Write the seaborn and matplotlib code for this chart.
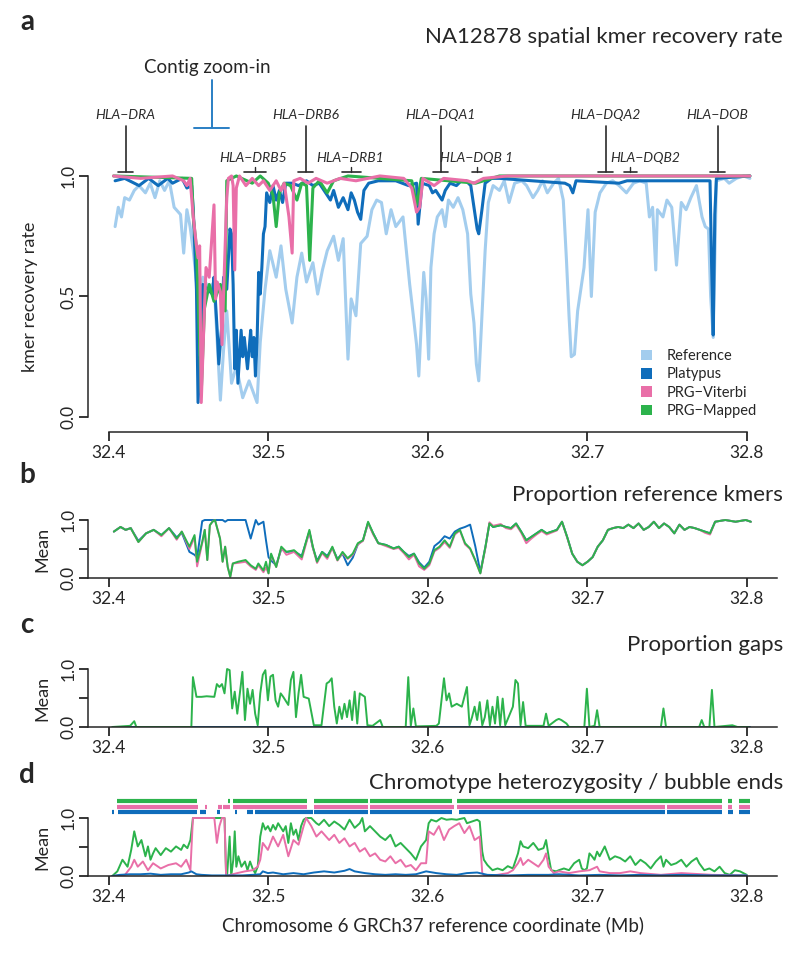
import matplotlib
matplotlib.use("Agg")
import matplotlib.pyplot as plt
from matplotlib.patches import Patch
import seaborn as sns

# ---- panel a: spatial kmer recovery rate ----
ref_x = [32.404, 32.406, 32.408, 32.410, 32.413, 32.416, 32.419, 32.423, 32.426, 32.429,
         32.432, 32.435, 32.438, 32.441, 32.445, 32.447, 32.449, 32.451, 32.453, 32.455,
         32.457, 32.459, 32.463, 32.466, 32.470, 32.472, 32.474, 32.477, 32.480, 32.484,
         32.488, 32.493, 32.495, 32.498, 32.501, 32.505, 32.508, 32.511, 32.515, 32.518,
         32.521, 32.524, 32.528, 32.531, 32.534, 32.537, 32.541, 32.544, 32.547, 32.550,
         32.552, 32.555, 32.558, 32.562, 32.565, 32.568, 32.571, 32.574, 32.577, 32.580,
         32.5845, 32.5866, 32.5887, 32.5908, 32.593, 32.5944, 32.596, 32.5975, 32.599, 32.6006,
         32.602, 32.604, 32.606, 32.609, 32.611, 32.613, 32.616, 32.619, 32.622, 32.625,
         32.627, 32.629, 32.6305, 32.632, 32.634, 32.636, 32.638, 32.641, 32.645, 32.648,
         32.651, 32.6545, 32.659, 32.662, 32.666, 32.669, 32.672, 32.675, 32.679, 32.682,
         32.685, 32.687, 32.6886, 32.690, 32.692, 32.694, 32.696, 32.698, 32.7005, 32.7026,
         32.705, 32.708, 32.712, 32.716, 32.720, 32.7246, 32.729, 32.733, 32.737, 32.739,
         32.741, 32.743, 32.744, 32.7475, 32.750, 32.753, 32.756, 32.759, 32.762, 32.765,
         32.7685, 32.772, 32.774, 32.776, 32.7774, 32.779, 32.781, 32.786, 32.789, 32.7935,
         32.798, 32.802]
ref_y = [0.79, 0.87, 0.83, 0.91, 0.90, 0.94, 0.96, 0.93, 0.97, 0.91,
         0.98, 0.94, 0.98, 0.87, 0.84, 0.68, 0.86, 0.79, 0.69, 0.56,
         0.49, 0.58, 0.53, 0.56, 0.07, 0.28, 0.44, 0.14, 0.21, 0.08,
         0.15, 0.06, 0.31, 0.53, 0.69, 0.58, 0.71, 0.53, 0.39, 0.58,
         0.68, 0.56, 0.64, 0.51, 0.61, 0.69, 0.75, 0.65, 0.74, 0.24,
         0.49, 0.42, 0.72, 0.75, 0.86, 0.90, 0.89, 0.76, 0.86, 0.79,
         0.83, 0.69, 0.55, 0.43, 0.30, 0.17, 0.39, 0.60, 0.49, 0.24,
         0.62, 0.76, 0.83, 0.86, 0.79, 0.90, 0.87, 0.91, 0.86, 0.76,
         0.51, 0.39, 0.22, 0.15, 0.42, 0.69, 0.89, 0.96, 0.94, 0.98,
         0.89, 0.97, 0.98, 0.96, 0.91, 0.94, 0.98, 0.93, 0.97, 0.99,
         0.90, 0.65, 0.42, 0.25, 0.26, 0.44, 0.53, 0.62, 0.86, 0.50,
         0.85, 0.93, 0.97, 0.98, 0.96, 0.93, 0.97, 0.98, 0.97, 0.83,
         0.87, 0.61, 0.86, 0.83, 0.90, 0.87, 0.63, 0.89, 0.86, 0.91,
         0.96, 0.83, 0.79, 0.78, 0.50, 0.33, 0.98, 0.99, 0.97, 0.99,
         1.0, 0.99]

plat_x = [32.404, 32.410, 32.419, 32.425, 32.431, 32.437, 32.440, 32.446, 32.449, 32.452,
          32.453, 32.455, 32.456, 32.458, 32.459, 32.462, 32.465, 32.466, 32.468, 32.469,
          32.471, 32.472, 32.474, 32.476, 32.477, 32.478, 32.479, 32.480, 32.481, 32.483,
          32.484, 32.485, 32.487, 32.488, 32.489, 32.490, 32.491, 32.492, 32.493, 32.494,
          32.495, 32.496, 32.497, 32.498, 32.499, 32.501, 32.503, 32.505, 32.507, 32.509,
          32.511, 32.515, 32.519, 32.524, 32.528, 32.532, 32.536, 32.539, 32.541, 32.544,
          32.547, 32.550, 32.552, 32.554, 32.556, 32.558, 32.560, 32.563, 32.569, 32.580,
          32.588, 32.593, 32.594, 32.5965, 32.601, 32.603, 32.605, 32.609, 32.611, 32.614,
          32.618, 32.621, 32.624, 32.627, 32.629, 32.631, 32.632, 32.634, 32.636, 32.640,
          32.645, 32.686, 32.689, 32.691, 32.693, 32.720, 32.725, 32.741, 32.750, 32.777,
          32.778, 32.779, 32.780, 32.781, 32.802]
plat_y = [0.98, 0.99, 0.96, 0.99, 0.96, 0.99, 0.97, 0.99, 0.95, 0.96,
          0.86, 0.53, 0.06, 0.31, 0.55, 0.53, 0.51, 0.58, 0.36, 0.22,
          0.39, 0.58, 0.53, 0.78, 0.76, 0.55, 0.20, 0.36, 0.14, 0.36,
          0.25, 0.33, 0.20, 0.28, 0.36, 0.25, 0.33, 0.17, 0.31, 0.60,
          0.51, 0.62, 0.76, 0.79, 0.93, 0.89, 0.96, 0.90, 0.94, 0.89,
          0.97, 0.97, 0.96, 0.98, 0.96, 0.97, 0.93, 0.90, 0.94, 0.87,
          0.91, 0.86, 0.93, 0.90, 0.85, 0.82, 0.94, 0.97, 0.98, 0.98,
          0.96, 0.97, 0.80, 0.97, 0.96, 0.93, 0.94, 0.90, 0.94, 0.97,
          0.96, 0.98, 0.98, 0.96, 0.87, 0.78, 0.76, 0.86, 0.97, 0.99,
          0.99, 0.97, 0.96, 0.93, 0.98, 0.97, 0.98, 0.98, 0.98, 0.98,
          0.63, 0.34, 0.84, 0.99, 1.0]

viterbi_x = [32.403, 32.420, 32.440, 32.447, 32.449, 32.451, 32.453, 32.455, 32.456, 32.457,
             32.458, 32.460, 32.461, 32.463, 32.466, 32.467, 32.468, 32.470, 32.471, 32.472,
             32.474, 32.475, 32.477, 32.478, 32.479, 32.480, 32.482, 32.486, 32.490, 32.494,
             32.497, 32.501, 32.505, 32.508, 32.510, 32.513, 32.515, 32.516, 32.520, 32.525,
             32.530, 32.537, 32.545, 32.555, 32.570, 32.585, 32.590, 32.593, 32.595, 32.597,
             32.604, 32.610, 32.625, 32.629, 32.635, 32.650, 32.802]
viterbi_y = [1.0, 0.99, 1.0, 0.98, 0.96, 0.99, 0.83, 0.71, 0.66, 0.71,
             0.06, 0.45, 0.62, 0.58, 0.88, 0.49, 0.56, 0.52, 0.30, 0.51,
             0.91, 0.99, 1.0, 0.96, 0.61, 0.95, 1.0, 0.96, 0.99, 0.96,
             0.98, 0.94, 0.98, 0.94, 0.97, 0.83, 0.68, 0.98, 0.99, 0.97,
             0.99, 0.97, 0.99, 0.98, 1.0, 0.99, 0.95, 0.85, 0.87, 0.99,
             0.96, 0.99, 0.98, 0.97, 0.99, 1.0, 1.0]

mapped_x = [32.403, 32.452, 32.453, 32.455, 32.458, 32.460, 32.463, 32.466, 32.470, 32.473,
            32.474, 32.480, 32.490, 32.495, 32.500, 32.503, 32.505, 32.507, 32.510, 32.514,
            32.518, 32.521, 32.524, 32.526, 32.528, 32.532, 32.537, 32.541, 32.550, 32.590,
            32.593, 32.596, 32.630, 32.645, 32.802]
mapped_y = [1.0, 0.99, 0.83, 0.70, 0.10, 0.45, 0.55, 0.48, 0.55, 0.44,
            0.98, 1.0, 0.97, 1.0, 0.97, 0.92, 0.79, 0.93, 0.97, 0.96,
            0.90, 0.97, 0.96, 0.65, 0.95, 0.98, 0.93, 0.98, 1.0, 0.98,
            0.88, 0.99, 0.97, 1.0, 1.0]

# ---- panel b: proportion reference kmers ----
b_x = [32.4032, 32.4074, 32.4106, 32.4138, 32.4186, 32.4234, 32.4282, 32.4330, 32.4378, 32.4426,
       32.4458, 32.4506, 32.4538, 32.4554, 32.4586, 32.4602, 32.4618, 32.4634, 32.4650, 32.4666,
       32.4698, 32.4714, 32.4730, 32.4746, 32.4762, 32.4778, 32.4810, 32.4858, 32.4890, 32.4922,
       32.4938, 32.4970, 32.4986, 32.5002, 32.5018, 32.5050, 32.5082, 32.5114, 32.5162, 32.5210,
       32.5258, 32.5280, 32.5306, 32.5338, 32.5370, 32.5402, 32.5434, 32.5466, 32.5498, 32.5530,
       32.5562, 32.5594, 32.5626, 32.5658, 32.5690, 32.5738, 32.5786, 32.5818, 32.5850, 32.5882,
       32.5914, 32.5946, 32.5978, 32.6010, 32.6042, 32.6074, 32.6106, 32.6138, 32.6170, 32.6202,
       32.6234, 32.6266, 32.6298, 32.6330, 32.6362, 32.6387, 32.6410, 32.6458, 32.6490, 32.6522,
       32.6554, 32.6586, 32.6618, 32.6650, 32.6682, 32.6714, 32.6746, 32.6810, 32.6842, 32.6874,
       32.6906, 32.6938, 32.6970, 32.7002, 32.7034, 32.7066, 32.7098, 32.7130, 32.7162, 32.7194,
       32.7226, 32.7258, 32.7290, 32.7322, 32.7354, 32.7386, 32.7418, 32.7450, 32.7482, 32.7514,
       32.7546, 32.7578, 32.7610, 32.7642, 32.7674, 32.7706, 32.7738, 32.7770, 32.7802, 32.7866,
       32.7930, 32.7994, 32.8026]
b_platypus = [0.80, 0.88, 0.83, 0.86, 0.64, 0.77, 0.83, 0.74, 0.86, 0.70,
              0.78, 0.45, 0.40, 0.35, 0.98, 1.0, 1.0, 1.0, 1.0, 1.0,
              1.0, 1.0, 0.97, 1.0, 1.0, 1.0, 1.0, 1.0, 0.68, 1.0,
              0.92, 0.97, 0.65, 0.36, 0.30, 0.22, 0.50, 0.45, 0.46, 0.38,
              0.80, 0.52, 0.30, 0.45, 0.38, 0.52, 0.33, 0.42, 0.22, 0.35,
              0.58, 0.65, 0.95, 0.77, 0.60, 0.57, 0.51, 0.54, 0.45, 0.38,
              0.42, 0.27, 0.18, 0.28, 0.55, 0.62, 0.72, 0.68, 0.80, 0.85,
              0.88, 0.92, 0.55, 0.10, 0.54, 0.94, 0.88, 0.91, 0.88, 0.86,
              0.94, 0.80, 0.65, 0.71, 0.77, 0.83, 0.77, 0.83, 0.97, 0.71,
              0.42, 0.28, 0.22, 0.28, 0.36, 0.54, 0.65, 0.83, 0.86, 0.88,
              0.86, 0.92, 0.86, 0.94, 0.83, 0.88, 0.97, 0.86, 0.94, 0.88,
              0.77, 0.92, 0.83, 0.88, 0.86, 0.83, 0.80, 0.77, 0.97, 1.0,
              0.97, 1.0, 0.97]
b_viterbi = [0.80, 0.88, 0.83, 0.86, 0.62, 0.77, 0.83, 0.72, 0.86, 0.66,
             0.80, 0.50, 0.70, 0.20, 0.60, 0.83, 0.31, 0.91, 0.97, 1.0,
             0.68, 0.28, 0.54, 0.19, 0.02, 0.25, 0.26, 0.28, 0.20, 0.14,
             0.22, 0.10, 0.18, 0.08, 0.40, 0.19, 0.52, 0.40, 0.45, 0.32,
             0.80, 0.52, 0.26, 0.43, 0.33, 0.52, 0.30, 0.43, 0.33, 0.40,
             0.58, 0.64, 0.95, 0.75, 0.60, 0.55, 0.50, 0.52, 0.43, 0.32,
             0.40, 0.20, 0.14, 0.22, 0.46, 0.52, 0.62, 0.52, 0.75, 0.82,
             0.58, 0.50, 0.30, 0.08, 0.52, 0.96, 0.90, 0.93, 0.86, 0.84,
             0.92, 0.78, 0.60, 0.68, 0.75, 0.81, 0.75, 0.82, 0.97, 0.70,
             0.42, 0.28, 0.22, 0.28, 0.36, 0.54, 0.65, 0.83, 0.86, 0.88,
             0.86, 0.92, 0.86, 0.94, 0.83, 0.88, 0.97, 0.86, 0.94, 0.88,
             0.77, 0.92, 0.83, 0.88, 0.86, 0.83, 0.78, 0.75, 0.97, 1.0,
             0.97, 1.0, 0.97]
b_mapped = [0.80, 0.88, 0.83, 0.86, 0.62, 0.77, 0.83, 0.74, 0.86, 0.68,
            0.80, 0.54, 0.74, 0.28, 0.62, 0.83, 0.31, 0.91, 0.97, 1.0,
            0.68, 0.28, 0.54, 0.19, 0.02, 0.25, 0.28, 0.31, 0.22, 0.16,
            0.25, 0.13, 0.28, 0.08, 0.42, 0.19, 0.54, 0.45, 0.48, 0.36,
            0.83, 0.54, 0.28, 0.45, 0.36, 0.54, 0.31, 0.45, 0.34, 0.42,
            0.60, 0.65, 0.97, 0.77, 0.60, 0.57, 0.51, 0.54, 0.45, 0.36,
            0.42, 0.25, 0.16, 0.25, 0.48, 0.54, 0.65, 0.54, 0.77, 0.83,
            0.60, 0.51, 0.31, 0.08, 0.54, 0.94, 0.88, 0.91, 0.88, 0.86,
            0.94, 0.80, 0.65, 0.71, 0.77, 0.83, 0.77, 0.83, 0.97, 0.71,
            0.42, 0.28, 0.22, 0.28, 0.36, 0.54, 0.65, 0.83, 0.86, 0.88,
            0.86, 0.92, 0.86, 0.94, 0.83, 0.88, 0.97, 0.86, 0.94, 0.88,
            0.77, 0.92, 0.83, 0.88, 0.86, 0.83, 0.80, 0.77, 0.97, 1.0,
            0.97, 1.0, 0.97]

# ---- panel c: proportion gaps ----
c_platypus_x = [32.403, 32.802]
c_platypus = [0.0, 0.0]
c_x = [32.4022, 32.4134, 32.4160, 32.4173, 32.4518, 32.4528, 32.4550, 32.4582, 32.4614, 32.4662,
       32.4678, 32.4694, 32.4710, 32.4726, 32.4742, 32.4758, 32.4774, 32.4790, 32.4806, 32.4822,
       32.4838, 32.4854, 32.4870, 32.4886, 32.4902, 32.4918, 32.4934, 32.4950, 32.4966, 32.4982,
       32.4998, 32.5014, 32.5030, 32.5046, 32.5062, 32.5078, 32.5094, 32.5126, 32.5142, 32.5158,
       32.5174, 32.5190, 32.5206, 32.5222, 32.5254, 32.5286, 32.5334, 32.5366, 32.5382, 32.5398,
       32.5414, 32.5430, 32.5446, 32.5462, 32.5478, 32.5494, 32.5510, 32.5526, 32.5542, 32.5558,
       32.5574, 32.5606, 32.5622, 32.5654, 32.5702, 32.5718, 32.5862, 32.5878, 32.5894, 32.5910,
       32.5926, 32.6054, 32.6070, 32.6102, 32.6118, 32.6134, 32.6150, 32.6182, 32.6214, 32.6230,
       32.6246, 32.6262, 32.6278, 32.6294, 32.6310, 32.6326, 32.6342, 32.6358, 32.6374, 32.6390,
       32.6406, 32.6422, 32.6438, 32.6454, 32.6470, 32.6486, 32.6534, 32.6550, 32.6566, 32.6582,
       32.6598, 32.6614, 32.6726, 32.6742, 32.6758, 32.6806, 32.6822, 32.6838, 32.6870, 32.6886,
       32.6982, 32.6998, 32.7014, 32.7046, 32.7062, 32.7078, 32.7462, 32.7478, 32.7494, 32.7702,
       32.7718, 32.7734, 32.7766, 32.7782, 32.7798, 32.7910, 32.7942, 32.8010]
c_mapped = [0.0, 0.02, 0.10, 0.0, 0.0, 0.86, 0.52, 0.52, 0.53, 0.52,
            0.74, 0.69, 0.74, 0.58, 1.0, 0.98, 0.32, 0.61, 0.23, 0.58,
            0.95, 0.12, 0.66, 0.40, 0.64, 0.23, 0.03, 0.58, 0.90, 0.98,
            0.46, 0.87, 0.90, 0.46, 0.35, 0.58, 0.52, 0.38, 0.81, 0.95,
            0.17, 0.58, 0.90, 0.52, 0.49, 0.03, 0.03, 0.75, 0.78, 0.84,
            0.35, 0.06, 0.35, 0.14, 0.40, 0.17, 0.46, 0.12, 0.61, 0.06,
            0.58, 0.52, 0.03, 0.02, 0.12, 0.0, 0.0, 0.86, 0.02, 0.32,
            0.01, 0.02, 0.06, 0.84, 0.46, 0.58, 0.35, 0.40, 0.35, 0.52,
            0.69, 0.03, 0.17, 0.35, 0.12, 0.43, 0.03, 0.17, 0.46, 0.03,
            0.35, 0.06, 0.52, 0.03, 0.49, 0.03, 0.35, 0.81, 0.75, 0.03,
            0.43, 0.02, 0.02, 0.23, 0.02, 0.12, 0.14, 0.12, 0.06, 0.0,
            0.0, 0.66, 0.0, 0.02, 0.29, 0.0, 0.0, 0.32, 0.0, 0.0,
            0.12, 0.0, 0.0, 0.64, 0.0, 0.03, 0.0, 0.0]

# ---- panel d: chromotype heterozygosity / bubble ends ----
d_mapped_x = [32.4022, 32.4054, 32.4086, 32.4118, 32.4141, 32.4160, 32.4182, 32.4205, 32.4230, 32.4246,
              32.4262, 32.4278, 32.4294, 32.4326, 32.4358, 32.4390, 32.4422, 32.4454, 32.4470, 32.4493,
              32.4512, 32.4528, 32.4710, 32.4726, 32.4736, 32.4742, 32.4758, 32.4768, 32.4781, 32.4790,
              32.4800, 32.4813, 32.4832, 32.4854, 32.4870, 32.4886, 32.4902, 32.4918, 32.4934, 32.4950,
              32.4966, 32.4982, 32.4998, 32.5014, 32.5030, 32.5046, 32.5062, 32.5094, 32.5110, 32.5126,
              32.5142, 32.5158, 32.5174, 32.5190, 32.5206, 32.5222, 32.5238, 32.5270, 32.5302, 32.5318,
              32.5350, 32.5382, 32.5414, 32.5446, 32.5478, 32.5510, 32.5542, 32.5574, 32.5590, 32.5606,
              32.5638, 32.5670, 32.5702, 32.5734, 32.5766, 32.5798, 32.5830, 32.5862, 32.5894, 32.5926,
              32.5958, 32.5990, 32.6006, 32.6022, 32.6054, 32.6086, 32.6118, 32.6150, 32.6182, 32.6230,
              32.6246, 32.6278, 32.6310, 32.6326, 32.6342, 32.6352, 32.6374, 32.6406, 32.6438, 32.6470,
              32.6502, 32.6534, 32.6566, 32.6582, 32.6598, 32.6630, 32.6662, 32.6694, 32.6726, 32.6742,
              32.6758, 32.6774, 32.6806, 32.6822, 32.6854, 32.6886, 32.6918, 32.6950, 32.6966, 32.6982,
              32.6998, 32.7014, 32.7030, 32.7046, 32.7062, 32.7078, 32.7110, 32.7142, 32.7174, 32.7206,
              32.7238, 32.7270, 32.7302, 32.7334, 32.7366, 32.7398, 32.7430, 32.7462, 32.7478, 32.7494,
              32.7526, 32.7558, 32.7590, 32.7622, 32.7654, 32.7686, 32.7702, 32.7734, 32.7766, 32.7798,
              32.7830, 32.7862, 32.7894, 32.7926, 32.7958, 32.8000]
d_mapped = [0.0, 0.08, 0.28, 0.16, 0.45, 0.77, 0.51, 0.62, 0.34, 0.51,
            0.28, 0.39, 0.48, 0.36, 0.48, 0.42, 0.51, 0.45, 0.54, 0.48,
            0.62, 1.0, 1.0, 1.0, 0.0, 0.0, 0.68, 0.0, 0.28, 0.77,
            0.16, 0.34, 0.16, 0.25, 0.10, 0.25, 0.13, 0.05, 0.16, 0.68,
            0.91, 0.80, 0.86, 0.77, 0.88, 0.80, 0.91, 0.77, 0.86, 0.57,
            0.91, 0.71, 0.80, 0.62, 0.86, 0.97, 1.0, 1.0, 0.91, 0.88,
            0.97, 0.86, 0.94, 0.88, 0.80, 0.97, 0.83, 0.91, 1.0, 0.77,
            0.86, 0.77, 0.68, 0.62, 0.71, 0.51, 0.57, 0.48, 0.39, 0.28,
            0.51, 0.62, 0.91, 0.97, 0.94, 1.0, 0.97, 0.98, 0.97, 1.0,
            0.91, 0.94, 0.97, 0.94, 0.42, 0.28, 0.19, 0.10, 0.13, 0.10,
            0.17, 0.13, 0.39, 0.60, 0.51, 0.48, 0.57, 0.45, 0.48, 0.62,
            0.34, 0.10, 0.08, 0.10, 0.13, 0.10, 0.22, 0.28, 0.13, 0.10,
            0.13, 0.39, 0.34, 0.28, 0.42, 0.34, 0.51, 0.28, 0.34, 0.31,
            0.25, 0.34, 0.19, 0.28, 0.22, 0.13, 0.25, 0.34, 0.16, 0.28,
            0.19, 0.22, 0.28, 0.16, 0.25, 0.31, 0.22, 0.10, 0.13, 0.08,
            0.16, 0.05, 0.02, 0.10, 0.08, 0.02]

d_viterbi_x = [32.4022, 32.4102, 32.4141, 32.4160, 32.4182, 32.4214, 32.4246, 32.4278, 32.4326, 32.4374,
               32.4422, 32.4454, 32.4486, 32.4512, 32.4528, 32.4662, 32.4678, 32.4694, 32.4710, 32.4726,
               32.4736, 32.4806, 32.4854, 32.4902, 32.4934, 32.4950, 32.4966, 32.4998, 32.5030, 32.5062,
               32.5094, 32.5126, 32.5158, 32.5190, 32.5222, 32.5238, 32.5270, 32.5302, 32.5334, 32.5382,
               32.5414, 32.5446, 32.5478, 32.5510, 32.5542, 32.5574, 32.5606, 32.5638, 32.5670, 32.5702,
               32.5734, 32.5766, 32.5798, 32.5830, 32.5862, 32.5894, 32.5926, 32.5958, 32.5990, 32.6006,
               32.6038, 32.6070, 32.6102, 32.6134, 32.6166, 32.6198, 32.6230, 32.6262, 32.6294, 32.6326,
               32.6342, 32.6358, 32.6438, 32.6502, 32.6534, 32.6566, 32.6582, 32.6598, 32.6630, 32.6662,
               32.6694, 32.6726, 32.6742, 32.6758, 32.6790, 32.6822, 32.6886, 32.6950, 32.7014, 32.7062,
               32.7078, 32.7142, 32.7206, 32.7270, 32.7334, 32.7462, 32.7590, 32.7718, 32.7782, 32.8000]
d_viterbi = [0.0, 0.02, 0.16, 0.28, 0.16, 0.25, 0.10, 0.22, 0.13, 0.19,
             0.22, 0.16, 0.28, 0.10, 1.0, 1.0, 0.57, 0.86, 1.0, 1.0,
             0.0, 0.05, 0.08, 0.10, 0.16, 0.28, 0.57, 0.45, 0.68, 0.51,
             0.71, 0.34, 0.62, 0.54, 0.86, 1.0, 0.86, 0.68, 0.77, 0.62,
             0.71, 0.57, 0.65, 0.51, 0.57, 0.42, 0.48, 0.34, 0.39, 0.28,
             0.25, 0.34, 0.22, 0.28, 0.16, 0.19, 0.10, 0.22, 0.22, 0.77,
             0.71, 0.86, 0.62, 0.80, 0.86, 0.91, 0.74, 0.86, 0.62, 0.68,
             0.05, 0.0, 0.02, 0.05, 0.10, 0.22, 0.31, 0.19, 0.28, 0.22,
             0.16, 0.28, 0.39, 0.16, 0.05, 0.08, 0.05, 0.08, 0.10, 0.16,
             0.08, 0.05, 0.05, 0.08, 0.05, 0.02, 0.05, 0.03, 0.02, 0.01]

d_platypus_x = [32.4022, 32.4070, 32.4134, 32.4198, 32.4262, 32.4326, 32.4390, 32.4454, 32.4502, 32.4518,
                32.4550, 32.4582, 32.4646, 32.4710, 32.4838, 32.4902, 32.4950, 32.4966, 32.4998, 32.5030,
                32.5094, 32.5158, 32.5222, 32.5286, 32.5350, 32.5414, 32.5478, 32.5510, 32.5542, 32.5606,
                32.5670, 32.5734, 32.5798, 32.5862, 32.5926, 32.5990, 32.6054, 32.6118, 32.6182, 32.6246,
                32.6310, 32.6374, 32.6502, 32.6630, 32.6758, 32.6822, 32.6950, 32.7078, 32.7206, 32.7334,
                32.7462, 32.7590, 32.7782, 32.8000]
d_platypus = [0.0, 0.02, 0.03, 0.03, 0.04, 0.02, 0.03, 0.03, 0.06, 0.08,
              0.03, 0.02, 0.01, 0.01, 0.01, 0.02, 0.03, 0.08, 0.05, 0.06,
              0.03, 0.05, 0.03, 0.06, 0.08, 0.06, 0.09, 0.12, 0.08, 0.05,
              0.03, 0.02, 0.03, 0.02, 0.03, 0.08, 0.05, 0.03, 0.02, 0.05,
              0.06, 0.02, 0.01, 0.02, 0.02, 0.03, 0.01, 0.02, 0.01, 0.02,
              0.01, 0.02, 0.01, 0.01]

# chromotype segments drawn above panel d
mapped_seg_start = [32.4050, 32.4745, 32.4777, 32.5290, 32.5636, 32.6182, 32.7885, 32.7949]
mapped_seg_end = [32.4552, 32.4758, 32.5241, 32.5624, 32.6150, 32.7846, 32.7910, 32.8022]
viterbi_seg_start = [32.4050, 32.4603, 32.4683, 32.4715, 32.4777, 32.5290, 32.5636, 32.6182,
                     32.7501, 32.7885, 32.7949]
viterbi_seg_end = [32.4560, 32.4615, 32.4708, 32.4759, 32.5241, 32.5624, 32.6166, 32.7485,
                   32.7846, 32.7910, 32.8022]
platypus_seg_start = [32.4018, 32.4056, 32.4570, 32.4677, 32.4790, 32.4865, 32.4915, 32.5290,
                      32.5636, 32.6198, 32.7501, 32.7885, 32.7949]
platypus_seg_end = [32.4032, 32.4552, 32.4608, 32.4696, 32.4802, 32.4903, 32.5279, 32.5624,
                    32.6150, 32.7485, 32.7846, 32.7917, 32.8022]

# gene annotations
long_genes = ["HLA−DRA", "HLA−DRB6", "HLA−DQA1", "HLA−DQA2", "HLA−DOB"]
long_pos = [32.4107, 32.5235, 32.6082, 32.7116, 32.7818]
short_genes = ["HLA−DRB5", "HLA−DRB1", "HLA−DQB 1", "HLA−DQB2"]
short_start = [32.4846, 32.5461, 32.6276, 32.7229]
short_end = [32.4984, 32.5580, 32.6339, 32.7310]
short_label_x = [32.4903, 32.5511, 32.6307, 32.7361]
contig_start, contig_end, contig_mid = 32.4533, 32.4752, 32.4646

series_names = ["Reference", "Platypus", "PRG−Viterbi", "PRG−Mapped"]
colors = {"Reference": "#a3cdee", "Platypus": "#0f6dbb",
          "PRG−Viterbi": "#e96fa8", "PRG−Mapped": "#2cb34c"}
x_ticks = [32.4, 32.5, 32.6, 32.7, 32.8]

sns.set_style("ticks")
plt.rcParams["font.family"] = ["Lato", "DejaVu Sans"]
plt.rcParams["axes.linewidth"] = 1.1

fig = plt.figure(figsize=(8, 9.56), dpi=100)
W, H = 800.0, 956.0
XLIM = (32.387, 32.819)


def add_px_axes(bottom, top):
    return fig.add_axes([88 / W, 1 - bottom / H, (777 - 88) / W, (bottom - top) / H])


def style_axes(ax, full_bottom):
    ax.set_xlim(*XLIM)
    ax.set_xticks(x_ticks)
    ax.set_xticklabels(["%.1f" % t for t in x_ticks])
    ax.set_yticks([0, 0.5, 1.0])
    ax.set_yticklabels(["0.0", "0.5", "1.0"])
    sns.despine(ax=ax)
    ax.spines["left"].set_bounds(0, 1)
    if not full_bottom:
        ax.spines["bottom"].set_bounds(32.4, 32.8)
    ax.tick_params(axis="both", direction="out", length=6.5, width=1.1,
                   labelsize=12.5, color="black")
    ax.tick_params(axis="x", pad=3)
    ax.tick_params(axis="y", pad=2, labelrotation=90)
    for lbl in ax.get_yticklabels():
        lbl.set_va("center")
    ax.set_xlabel("")
    ax.set_facecolor("none")


def line(ax, xs, ys, name, lw):
    sns.lineplot(x=xs, y=ys, ax=ax, color=colors[name], linewidth=lw,
                 estimator=None, sort=False, legend=False)


# ---- panel a ----
ax_a = add_px_axes(432, 161.5)
line(ax_a, ref_x, ref_y, "Reference", 2.2)
line(ax_a, plat_x, plat_y, "Platypus", 2.2)
line(ax_a, mapped_x, mapped_y, "PRG−Mapped", 2.2)
line(ax_a, viterbi_x, viterbi_y, "PRG−Viterbi", 2.2)
ax_a.set_ylim(-0.0622, 1.06)
style_axes(ax_a, full_bottom=False)
ax_a.set_ylabel("kmer recovery rate", fontsize=13)
ax_a.yaxis.set_label_coords((38 - 88) / 689, 0.5 * (1.06 + 0.0622 - 0.0622 * 2) / 1.1222 + 0.0622 / 1.1222)

gene_col = "#2b2b2b"
for name, pos in zip(long_genes, long_pos):
    ax_a.plot([pos, pos], [1.207, 1.017], color=gene_col, lw=1.2, clip_on=False)
    ax_a.plot([pos - 0.0047, pos + 0.0047], [1.017, 1.017], color=gene_col, lw=1.2, clip_on=False)
    ax_a.text(pos, 1.253, name, ha="center", va="center", fontsize=10,
              style="italic", color=gene_col, clip_on=False)
for name, s, e, lx in zip(short_genes, short_start, short_end, short_label_x):
    mid = (s + e) / 2
    ax_a.plot([s, e], [1.017, 1.017], color=gene_col, lw=1.2, clip_on=False)
    ax_a.plot([mid, mid], [1.017, 1.037], color=gene_col, lw=1.0, clip_on=False)
    ax_a.text(lx, 1.075, name, ha="center", va="center", fontsize=10,
              style="italic", color=gene_col, clip_on=False)
contig_col = "#2a7fc4"
ax_a.plot([contig_mid, contig_mid], [1.398, 1.199], color=contig_col, lw=1.4, clip_on=False)
ax_a.plot([contig_start, contig_end], [1.199, 1.199], color=contig_col, lw=1.4, clip_on=False)
ax_a.text(contig_mid - 0.003, 1.448, "Contig zoom-in", ha="center", va="center",
          fontsize=13.5, clip_on=False)

handles = [Patch(facecolor=colors[n], edgecolor="none", label=n) for n in series_names]
ax_a.legend(handles=handles, loc="upper left", bbox_to_anchor=(641 / W, 1 - 349 / H),
            bbox_transform=fig.transFigure, frameon=False, fontsize=10.5,
            handlelength=0.75, handleheight=0.75, handletextpad=1.0,
            labelspacing=0.3, borderpad=0, borderaxespad=0)

# ---- panel b ----
ax_b = add_px_axes(578, 578 - 1.04 * 58)
line(ax_b, b_x, b_platypus, "Platypus", 1.4)
line(ax_b, b_x, b_viterbi, "PRG−Viterbi", 1.4)
line(ax_b, b_x, b_mapped, "PRG−Mapped", 1.4)
ax_b.set_ylim(0, 1.04)
style_axes(ax_b, full_bottom=True)
ax_b.set_yticks([0, 0.5, 1.0])
ax_b.set_yticklabels(["0.0", "", "1.0"])

# ---- panel c ----
ax_c = add_px_axes(727, 727 - 1.04 * 58)
line(ax_c, c_platypus_x, c_platypus, "Platypus", 1.4)
line(ax_c, c_x, c_mapped, "PRG−Mapped", 1.4)
ax_c.set_ylim(0, 1.04)
style_axes(ax_c, full_bottom=True)
ax_c.set_yticklabels(["0.0", "", "1.0"])

# ---- panel d ----
ax_d = add_px_axes(876, 876 - 1.04 * 58)
line(ax_d, d_mapped_x, d_mapped, "PRG−Mapped", 1.4)
line(ax_d, d_viterbi_x, d_viterbi, "PRG−Viterbi", 1.4)
line(ax_d, d_platypus_x, d_platypus, "Platypus", 1.4)
ax_d.set_ylim(0, 1.04)
style_axes(ax_d, full_bottom=True)
ax_d.set_yticklabels(["0.0", "", "1.0"])
ax_d.hlines([1.293] * len(mapped_seg_start), mapped_seg_start, mapped_seg_end,
            color=colors["PRG−Mapped"], lw=3.0, clip_on=False)
ax_d.hlines([1.19] * len(viterbi_seg_start), viterbi_seg_start, viterbi_seg_end,
            color=colors["PRG−Viterbi"], lw=3.0, clip_on=False)
ax_d.hlines([1.103] * len(platypus_seg_start), platypus_seg_start, platypus_seg_end,
            color=colors["Platypus"], lw=3.0, clip_on=False)
ax_d.set_xlabel("Chromosome 6 GRCh37 reference coordinate (Mb)", fontsize=13.5, labelpad=8)

for ax in (ax_b, ax_c, ax_d):
    ax.set_ylabel("Mean", fontsize=13)
    ax.yaxis.set_label_coords((50 - 88) / 689, 0.5 / 1.04)

# titles and panel letters
fig.text(783 / W, 1 - 37 / H, "NA12878 spatial kmer recovery rate", ha="right", va="center", fontsize=16)
fig.text(783 / W, 1 - 495 / H, "Proportion reference kmers", ha="right", va="center", fontsize=16)
fig.text(783 / W, 1 - 645 / H, "Proportion gaps", ha="right", va="center", fontsize=16)
fig.text(783 / W, 1 - 783 / H, "Chromotype heterozygosity / bubble ends", ha="right", va="center", fontsize=16)
for letter, ypx in zip("abcd", [22, 475, 625, 775]):
    fig.text(27 / W, 1 - ypx / H, letter, ha="center", va="center", fontsize=20, fontweight="bold")

fig.savefig("out.png", dpi=100)
